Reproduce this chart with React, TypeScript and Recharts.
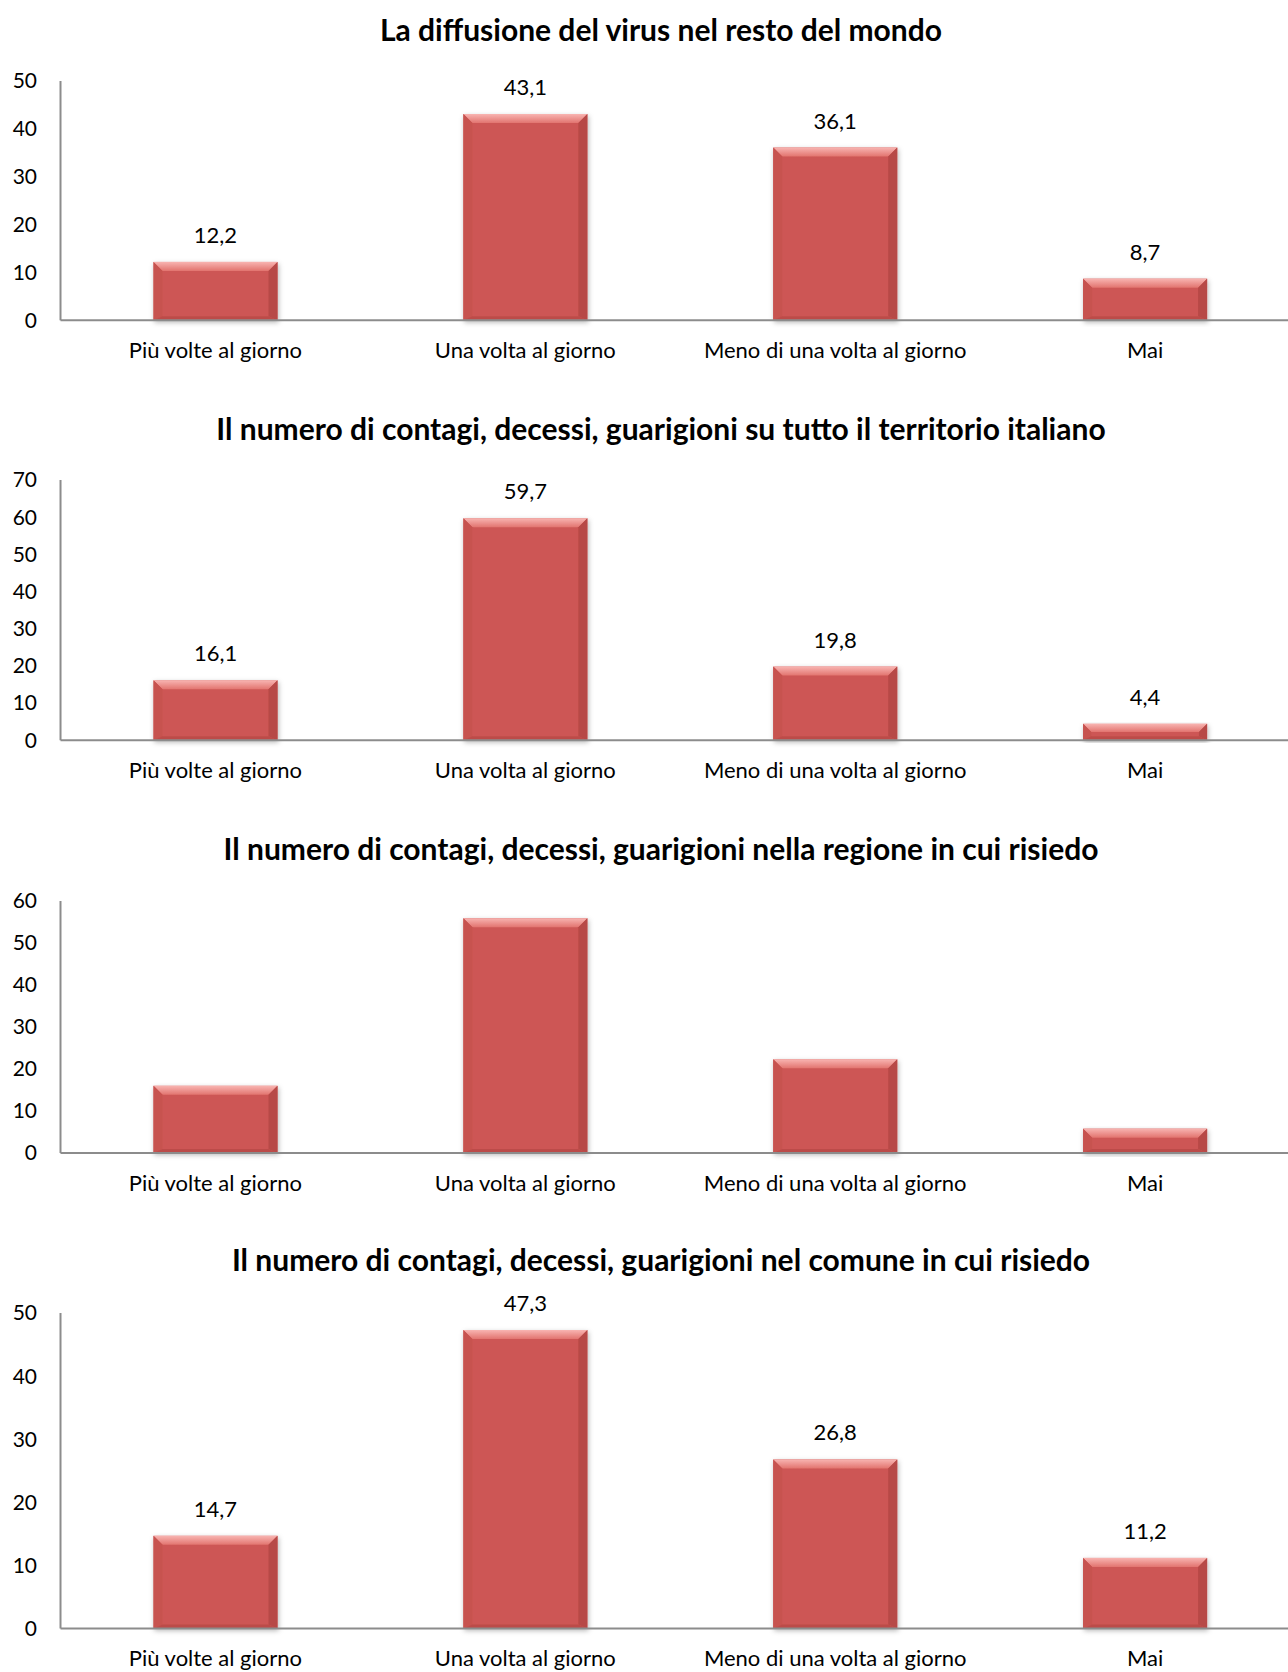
import React from "react";
import { Bar, BarChart, LabelList, XAxis, YAxis } from "recharts";

const categories = [
  "Più volte al giorno",
  "Una volta al giorno",
  "Meno di una volta al giorno",
  "Mai",
];

const restoDelMondo = [12.2, 43.1, 36.1, 8.7];
const territorioItaliano = [16.1, 59.7, 19.8, 4.4];
const regioneResidenza = [16.0, 55.9, 22.3, 5.8];
const comuneResidenza = [14.7, 47.3, 26.8, 11.2];

const ticks50 = [0, 10, 20, 30, 40, 50];
const ticks60 = [0, 10, 20, 30, 40, 50, 60];
const ticks70 = [0, 10, 20, 30, 40, 50, 60, 70];

const titles = [
  "La diffusione del virus nel resto del mondo",
  "Il numero di contagi, decessi, guarigioni su tutto il territorio italiano",
  "Il numero di contagi, decessi, guarigioni nella regione in cui risiedo",
  "Il numero di contagi, decessi, guarigioni nel comune in cui risiedo",
];

// layout of each panel on the page
const panels = [
  { title: titles[0], values: restoDelMondo, ticks: ticks50, labels: true, titleY: 29, plotTop: 80.7, plotBottom: 320 },
  { title: titles[1], values: territorioItaliano, ticks: ticks70, labels: true, titleY: 427.5, plotTop: 479.8, plotBottom: 740 },
  { title: titles[2], values: regioneResidenza, ticks: ticks60, labels: false, titleY: 847.6, plotTop: 900.7, plotBottom: 1152.7 },
  { title: titles[3], values: comuneResidenza, ticks: ticks50, labels: true, titleY: 1259.2, plotTop: 1312.5, plotBottom: 1628.1 },
];

const fmt = (v: any) => Number(v).toFixed(1).replace(".", ",");

const BevelBar = (props: any) => {
  const { x, y, width, height, idx } = props;
  if (!height || height <= 0) return null;
  const b = Math.min(9, height / 2);
  const s = Math.min(4, height / 2);
  return (
    <g filter={`url(#shadow${idx})`}>
      <rect x={x} y={y} width={width} height={height} fill="#CD5754" />
      <polygon
        points={`${x},${y} ${x + width},${y} ${x + width - b},${y + b} ${x + b},${y + b}`}
        fill={`url(#bevelTop${idx})`}
      />
      <polygon
        points={`${x},${y} ${x + b},${y + b} ${x + b},${y + height - s} ${x},${y + height}`}
        fill="#C7524F"
      />
      <polygon
        points={`${x + width},${y} ${x + width - b},${y + b} ${x + width - b},${y + height - s} ${x + width},${y + height}`}
        fill="#B74946"
      />
      <polygon
        points={`${x},${y + height} ${x + b},${y + height - s} ${x + width - b},${y + height - s} ${x + width},${y + height}`}
        fill="#BC4C49"
      />
    </g>
  );
};

const axisColor = "#8C8C8C";

const Panel = ({ p, idx }: { p: (typeof panels)[number]; idx: number }) => {
  const data = categories.map((name, i) => ({ name, value: p.values[i] }));
  const top = 30;
  const axisH = 60;
  const plotH = p.plotBottom - p.plotTop;
  return (
    <>
      <div
        style={{
          position: "absolute",
          left: 661,
          top: p.titleY - 18,
          transform: "translateX(-50%)",
          whiteSpace: "nowrap",
          fontWeight: 700,
          fontSize: 30,
          lineHeight: "36px",
          color: "#000",
        }}
      >
        {p.title}
      </div>
      <div style={{ position: "absolute", left: 0, top: p.plotTop - top }}>
        <BarChart
          width={1300}
          height={top + plotH + axisH}
          data={data}
          margin={{ top, right: 0, bottom: 0, left: 0 }}
          barSize={124}
        >
          <defs>
            <linearGradient id={`bevelTop${idx}`} x1="0" y1="0" x2="0" y2="1">
              <stop offset="0%" stopColor="#F8B4B1" />
              <stop offset="100%" stopColor="#E2746F" />
            </linearGradient>
            <filter id={`shadow${idx}`} x="-10%" y="-10%" width="120%" height="125%">
              <feDropShadow dx="1" dy="2" stdDeviation="2.5" floodColor="#000" floodOpacity="0.28" />
            </filter>
          </defs>
          <XAxis
            dataKey="name"
            interval={0}
            height={axisH}
            tickLine={false}
            tickSize={0}
            tickMargin={22}
            axisLine={{ stroke: axisColor, strokeWidth: 2 }}
            tick={{ fill: "#000", fontSize: 22 }}
          />
          <YAxis
            domain={[0, p.ticks[p.ticks.length - 1]]}
            ticks={p.ticks}
            interval={0}
            width={60.5}
            tickLine={false}
            tickSize={0}
            tickMargin={23.5}
            axisLine={{ stroke: axisColor, strokeWidth: 2 }}
            tick={{ fill: "#000", fontSize: 21 }}
          />
          <Bar
            dataKey="value"
            isAnimationActive={false}
            shape={(props: any) => <BevelBar {...props} idx={idx} />}
          >
            {p.labels && (
              <LabelList
                dataKey="value"
                position="top"
                offset={19}
                formatter={fmt}
                style={{ fill: "#000", fontSize: 22 }}
              />
            )}
          </Bar>
        </BarChart>
      </div>
    </>
  );
};

export default function App() {
  return (
    <div
      style={{
        position: "absolute",
        left: 0,
        top: 0,
        width: 1288,
        height: 1672,
        overflow: "hidden",
        background: "#fff",
        fontFamily: "Lato, 'Noto Sans', sans-serif",
      }}
    >
      {panels.map((p, i) => (
        <Panel key={i} p={p} idx={i} />
      ))}
    </div>
  );
}
